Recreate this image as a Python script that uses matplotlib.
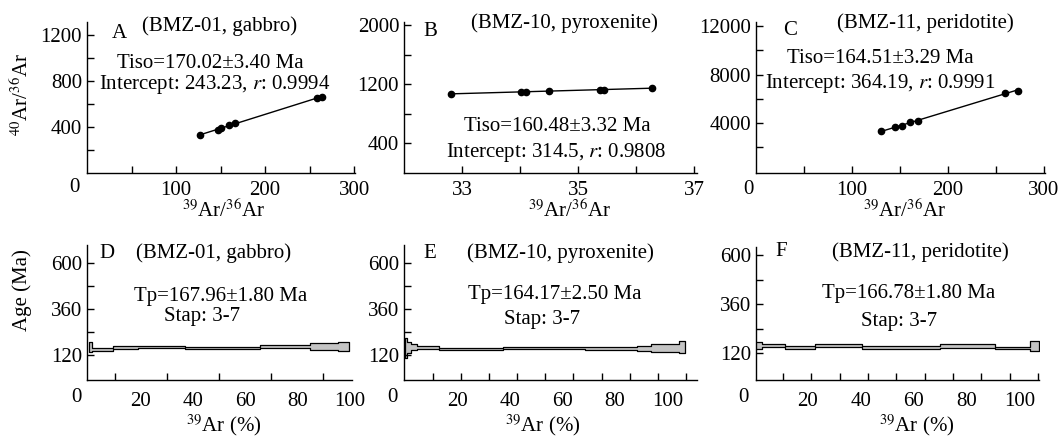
import numpy as np
import matplotlib
matplotlib.use('Agg')
import matplotlib.pyplot as plt

plt.rcParams['font.family'] = ['Liberation Serif', 'DejaVu Serif']
plt.rcParams['mathtext.fontset'] = 'stix'
FS = 15
plt.rcParams['font.size'] = FS

# ---- isochron data (39Ar/36Ar vs 40Ar/36Ar) ----
a_x = [127, 147, 151, 159, 166, 258, 264]
a_y = [330, 374, 388, 414, 432, 649, 663]
b_x = [32.81, 34.01, 34.11, 34.50, 35.37, 35.45, 36.28]
b_y = [1065, 1101, 1101, 1110, 1123, 1119, 1150]
c_x = [130, 145, 152, 160, 169, 259, 273]
c_y = [3310, 3641, 3752, 4083, 4166, 6483, 6676]

# ---- age spectra: cumulative 39Ar (%) step edges, age low/high (Ma) ----
d_edges = [0, 1.4, 9.4, 19.0, 36.9, 65.7, 84.9, 95.5, 100]
d_low = [137, 141, 151, 155, 151, 155, 146, 141]
d_high = [186, 158, 167, 167, 163, 172, 181, 186]
e_edges = [0, 0.8, 2.4, 4.4, 13.0, 37.4, 68.6, 88.3, 93.8, 104.2, 106.7]
e_low = [103, 129, 146, 151, 146, 150, 146, 142, 137, 129]
e_high = [207, 189, 176, 169, 158, 164, 162, 167, 176, 193]
f_edges = [0, 2.8, 11.6, 22.6, 40.5, 69.9, 90.7, 103.9, 107.3]
f_low = [141, 149, 141, 149, 141, 147, 141, 131]
f_high = [176, 168, 157, 165, 155, 164, 152, 180]

W, H = 1061, 438
fig = plt.figure(figsize=(W / 100, H / 100), dpi=100)


def add_ax(left, top, right, bottom):
    ax = fig.add_axes([left / W, (H - bottom) / H, (right - left) / W, (bottom - top) / H])
    ax.spines['top'].set_visible(False)
    ax.spines['right'].set_visible(False)
    for s in ('left', 'bottom'):
        ax.spines[s].set_linewidth(1.0)
    ax.tick_params(which='both', direction='in', length=5, width=1.0, labelsize=FS)
    return ax


def corner_zero(ax, dx, dy):
    ax.annotate('0', xy=(0, 0), xycoords='axes fraction', xytext=(dx, dy),
                textcoords='offset pixels', ha='center', va='center', fontsize=FS)


def isochron(ax, xs, ys):
    ax.plot(xs, ys, 'o', color='black', markersize=4.5)
    k, b = np.polyfit(xs, ys, 1)
    xx = np.array([min(xs), max(xs)])
    ax.plot(xx, k * xx + b, color='black', lw=1.0)


def spectrum(ax, edges, low, high):
    lo = list(low) + [low[-1]]
    hi = list(high) + [high[-1]]
    ax.fill_between(edges, lo, hi, step='post', facecolor='#c4c4c4',
                    edgecolor='black', linewidth=0.9)


def tick_labels(vals, show):
    return [str(v) if v in show else '' for v in vals]


def put(ax, x, y, s):
    ax.text(x, y, s, transform=ax.transAxes, ha='center', va='center')


# ---------------- top row ----------------
axA = add_ax(87, 22, 355, 173)
isochron(axA, a_x, a_y)
axA.set_xlim(0, 301)
axA.set_ylim(0, 1310)
xt = list(range(50, 301, 50))
axA.set_xticks(xt, tick_labels(xt, [100, 200, 300]))
yt = list(range(200, 1201, 200))
axA.set_yticks(yt, tick_labels(yt, [400, 800, 1200]))
axA.tick_params(axis='x', pad=6)
corner_zero(axA, -13, -15)
put(axA, 0.119, 0.927, 'A')
put(axA, 0.493, 0.975, '(BMZ-01, gabbro)')
put(axA, 0.459, 0.728, 'Tiso=170.02±3.40 Ma')
put(axA, 0.478, 0.589, 'Intercept: 243.23, $r$: 0.9994')

axB = add_ax(404, 22, 697, 173)
isochron(axB, b_x, b_y)
axB.set_xlim(32, 37.05)
axB.set_ylim(0, 2040)
xt = [33, 34, 35, 36, 37]
axB.set_xticks(xt, tick_labels(xt, [33, 35, 37]))
yt = list(range(400, 2001, 400))
axB.set_yticks(yt, tick_labels(yt, [400, 1200, 2000]))
axB.tick_params(axis='x', pad=6)
put(axB, 0.089, 0.934, 'B')
put(axB, 0.549, 0.99, '(BMZ-10, pyroxenite)')
put(axB, 0.522, 0.305, 'Tiso=160.48±3.32 Ma')
put(axB, 0.519, 0.139, 'Intercept: 314.5, $r$: 0.9808')

axC = add_ax(756, 22, 1045, 173)
isochron(axC, c_x, c_y)
axC.set_xlim(0, 301)
axC.set_ylim(-150, 12350)
xt = list(range(50, 301, 50))
axC.set_xticks(xt, tick_labels(xt, [100, 200, 300]))
yt = list(range(2000, 12001, 2000))
axC.set_yticks(yt, tick_labels(yt, [4000, 8000, 12000]))
axC.tick_params(axis='x', pad=6)
corner_zero(axC, -8, -16)
put(axC, 0.118, 0.947, 'C')
put(axC, 0.585, 0.99, '(BMZ-11, peridotite)')
put(axC, 0.429, 0.755, 'Tiso=164.51±3.29 Ma')
put(axC, 0.429, 0.596, 'Intercept: 364.19, $r$: 0.9991')

for xc in (224, 570, 905):
    fig.text(xc / W, 1 - 211 / H, r'$^{39}$Ar/$^{36}$Ar', ha='center', va='center', fontsize=FS)
fig.text(22 / W, 1 - 94 / H, r'$^{40}$Ar/$^{36}$Ar', ha='center', va='center',
         rotation=90, fontsize=FS)

# ---------------- bottom row ----------------
panels = [
    (87, 245, 352, 380, d_edges, d_low, d_high, (-0.6, 101), (-10, 692), 10.0, 'D',
     '(BMZ-01, gabbro)', 'Tp=167.96±1.80 Ma',
     [(0.074, 0.939), (0.479, 0.939), (0.505, 0.622), (0.434, 0.469)], (-11, -18)),
    (404, 245, 697, 380, e_edges, e_low, e_high, (-0.4, 111.2), (-10, 692), 10.69, 'E',
     '(BMZ-10, pyroxenite)', 'Tp=164.17±2.50 Ma',
     [(0.089, 0.939), (0.535, 0.939), (0.515, 0.635), (0.470, 0.450)], (-12, -18)),
    (756, 247, 1039, 380, f_edges, f_low, f_high, (0.5, 107.3), (-10, 640), 10.69, 'F',
     '(BMZ-11, peridotite)', 'Tp=166.78±1.80 Ma',
     [(0.088, 0.965), (0.580, 0.965), (0.541, 0.647), (0.505, 0.440)], (-13, -18)),
]

for (l, t, r, b, edges, low, high, xlim, ylim, tstep, letter, title, tp, pos, zoff) in panels:
    ax = add_ax(l, t, r, b)
    spectrum(ax, edges, low, high)
    ax.set_xlim(*xlim)
    ax.set_ylim(*ylim)
    lab = [20, 40, 60, 80, 100]
    ax.set_xticks(lab, [str(v) for v in lab])
    ax.set_xticks([tstep * k for k in range(1, 11)], minor=True)
    ax.tick_params(axis='x', which='major', length=0, pad=9)
    yt = list(range(120, 601, 120))
    ax.set_yticks(yt, tick_labels(yt, [120, 360, 600]))
    corner_zero(ax, *zoff)
    put(ax, *pos[0], letter)
    put(ax, *pos[1], title)
    put(ax, *pos[2], tp)
    put(ax, *pos[3], 'Stap: 3-7')

for xc in (224, 543, 917):
    fig.text(xc / W, 1 - 425 / H, r'$^{39}$Ar (%)', ha='center', va='center', fontsize=FS)
fig.text(22 / W, 1 - 290 / H, 'Age (Ma)', ha='center', va='center', rotation=90, fontsize=FS)

fig.savefig('out.png', dpi=100, facecolor='white')
